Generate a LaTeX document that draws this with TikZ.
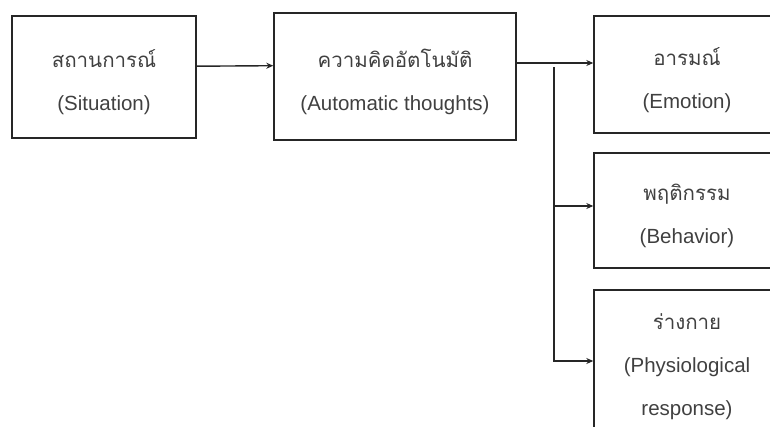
\documentclass[tikz,border=0pt]{standalone}
\usepackage{fontspec}
\setmainfont{Liberation Sans}
\newfontfamily\thaifont[Script=Thai]{Loma}
\usepackage{tikz}
\usetikzlibrary{arrows.meta,positioning}

\definecolor{linegray}{HTML}{262626}
\definecolor{textgray}{HTML}{404040}

\tikzset{
  box/.style={draw=linegray,line width=1.4pt,rectangle},
  txt/.style={align=center,text=textgray,yshift=-5.5pt,
    font=\fontsize{20.5}{43}\selectfont},
  arr/.style={draw=linegray,line width=1.4pt,-{Stealth[length=7pt,width=6pt]}}
}

\begin{document}
\begin{tikzpicture}[x=1pt,y=-1pt]
\useasboundingbox (0,0) rectangle (770,426);
\clip (0,0) rectangle (770,426);
\node[box,minimum width=184pt,minimum height=122pt,
  label={[txt]center:{{\thaifont สถานการณ์}\\(Situation)}}] (sit) at (104,77) {};
\node[box,minimum width=242pt,minimum height=127pt,
  label={[txt]center:{{\thaifont ความคิดอัตโนมัติ}\\(Automatic thoughts)}}] (auto) at (395,76.5) {};
\node[box,minimum width=186pt,minimum height=117pt,
  label={[txt]center:{{\thaifont อารมณ์}\\(Emotion)}}] (emo) at (687,74.5) {};
\node[box,minimum width=186pt,minimum height=115pt,
  label={[txt]center:{{\thaifont พฤติกรรม}\\(Behavior)}}] (beh) at (687,210.5) {};
\node[box,minimum width=186pt,minimum height=148pt,
  label={[txt,yshift=3pt]center:{{\thaifont ร่างกาย}\\(Physiological\\response)}}] (phy) at (687,364) {};
\coordinate (fork) at (554,63);
\coordinate (drop) at (554,67);
% arrows
\draw[arr] ([yshift=10.8pt]sit.east) -- ([yshift=10.8pt]auto.west);
\draw[arr] (auto.east |- fork) -- (emo.west |- fork);
\draw[arr] (drop) |- ([yshift=4.5pt]beh.west);
\draw[arr] (drop) |- ([yshift=3pt]phy.west);
\end{tikzpicture}
\end{document}
